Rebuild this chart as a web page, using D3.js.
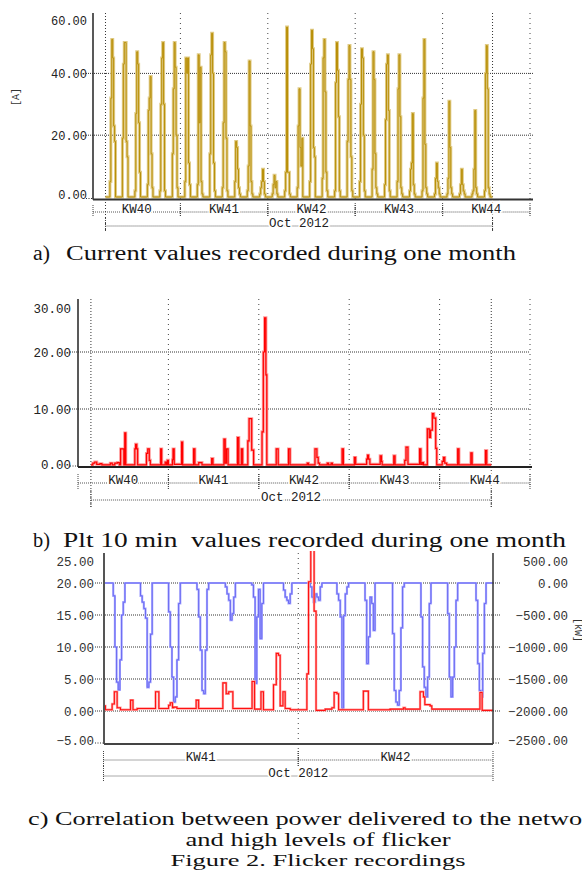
<!DOCTYPE html>
<html><head><meta charset="utf-8">
<script src="https://cdn.jsdelivr.net/npm/d3@7"></script>
<style>body{margin:0;background:#fff;} svg{display:block;} .cap{white-space:pre;}</style>
</head><body>
<script>
// ---------------- DATA ----------------
// days counted from Sun 30 Sep 2012 (day 0); KW weeks start on Sunday
const weekLabels = ["KW40", "KW41", "KW42", "KW43", "KW44"];
const weekStartDays = [0, 7, 14, 21, 28];
const weekEndDay = 35;
const monthLabel = "Oct 2012";
const monthSpan = [1, 32];

// a) current [A] : one array per day of October, levels at fixed daytime slots
const currentTicks = [0, 20, 40, 60];
const currentStartHour = 8.5;
const currentStepHours = 1.8;
const currentDaily = [
  [5, 32, 51, 45, 23, 18], [19, 43, 50, 50, 18, 13], [2, 27, 47, 43, 24, 8],
  [4, 28, 32, 39, 14, 3], [2, 30, 45, 50, 30, 2], [14, 35, 50, 42, 20, 3],
  [5, 45, 40, 45, 11, 4], [4, 46, 24, 42, 5, 1], [14, 46, 53, 40, 11, 2],
  [3, 24, 50, 47, 19, 2], [5, 18, 16, 9, 3, 1], [2, 10, 44, 23, 5, 1],
  [1, 3, 5, 9, 5, 1], [1, 4, 7, 3, 5, 1], [2, 8, 55, 8, 8, 1],
  [3, 23, 35, 16, 10, 19], [5, 43, 54, 48, 16, 13], [6, 45, 51, 34, 8, 2],
  [2, 37, 50, 41, 26, 2], [18, 38, 49, 38, 13, 2], [5, 30, 48, 45, 20, 2],
  [9, 47, 38, 14, 3, 1], [4, 25, 43, 46, 28, 2], [5, 35, 46, 26, 3, 1],
  [2, 9, 11, 27, 4, 1], [2, 32, 51, 17, 3, 1], [1, 6, 11, 5, 3, 1],
  [1, 6, 31, 16, 3, 1], [1, 4, 9, 4, 2, 1], [1, 2, 9, 28, 3, 1],
  [2, 40, 49, 35, 3, 1]
];

// b) Plt 10 min : [day, value] steps
const pltTicks = [0, 10, 20, 30];
const pltSteps = [
  [1.0,0.2],[1.15,0.5],[1.3,0.7],[1.45,0.3],[1.7,0.4],[1.85,0.2],
  [2.5,0.5],[2.65,0.2],[2.85,0.5],[3.05,0.6],[3.2,0.2],
  [3.3,3.0],[3.55,0.2],[3.62,5.8],[3.7,0.2],
  [4.4,3.0],[4.46,3.8],[4.55,3.0],[4.62,0.2],
  [5.3,2.2],[5.4,3.0],[5.52,1.0],[5.6,0.2],
  [6.4,3.0],[6.48,0.2],[6.75,0.7],[6.85,0.2],[6.92,1.0],[7.0,0.2],
  [7.31,1.1],[7.36,3.0],[7.45,0.3],
  [8.02,4.2],[8.1,0.2],
  [8.95,3.0],[9.05,0.2],
  [9.35,0.6],[9.6,0.2],
  [10.35,1.3],[10.45,0.2],
  [11.3,4.7],[11.4,0.5],[11.5,3.0],[11.62,0.2],
  [12.35,5.0],[12.45,0.2],[12.65,3.0],[12.75,0.2],
  [13.15,4.4],[13.25,8.3],[13.45,2.8],[13.6,0.2],
  [14.25,6.0],[14.35,20],[14.45,26],[14.55,16],[14.62,0.2],
  [15.35,3.0],[15.5,0.2],
  [16.3,3.0],[16.42,0.2],
  [17.75,0.5],[17.85,0.2],
  [18.35,3.0],[18.5,1.5],[18.6,0.5],[18.7,0.2],
  [19.3,0.5],[19.4,0.2],[19.6,0.5],[19.7,0.2],
  [20.45,3.0],[20.55,0.2],
  [21.4,1.5],[21.5,0.3],
  [22.35,1.2],[22.42,1.9],[22.5,1.2],[22.6,0.3],
  [23.4,1.8],[23.5,0.8],[23.55,0.2],
  [24.45,1.8],[24.55,0.2],
  [25.3,1.0],[25.4,3.3],[25.55,0.3],
  [26.45,3.0],[26.55,0.3],[26.65,0.6],[26.75,0.2],
  [27.05,6.5],[27.2,5.0],[27.3,6.3],[27.44,9.2],[27.55,8.4],[27.7,3.1],[27.78,0.2],
  [28.2,0.8],[28.3,1.5],[28.4,0.5],[28.55,0.2],
  [29.4,3.0],[29.5,0.2],
  [30.42,2.3],[30.52,0.2],
  [31.55,2.7],[31.65,0.2],
  [32.0,0.2]
];

// c) correlation KW41-KW42
const corrWeekLabels = ["KW41", "KW42"];
const corrWeekStarts = [7, 14];
const corrEndDay = 21;
const corrLeftTicks = [-5, 0, 5, 10, 15, 20, 25];
const corrRightTicks = [-2500, -2000, -1500, -1000, -500, 0, 500];
const corrFlickerSteps = [
  [7.0,0.8],[7.07,0.2],[7.31,1.1],[7.39,3.0],[7.49,0.5],[7.61,0.2],[7.97,1.7],[8.06,0.2],
  [8.21,0.4],[8.87,3.0],[8.99,0.4],[9.34,0.9],[9.40,1.3],[9.48,0.5],[9.52,0.6],[9.64,0.4],
  [10.33,1.7],[10.42,0.4],[11.29,4.4],[11.41,2.7],[11.50,3.0],[11.65,0.4],
  [12.34,4.6],[12.43,0.3],[12.66,3.0],[12.75,0.2],
  [13.11,4.1],[13.21,9.0],[13.29,8.7],[13.35,0.8],[13.45,3.0],[13.53,0.4],[13.71,0.2],
  [14.31,5.8],[14.37,20.2],[14.45,26.0],[14.57,15.6],[14.64,0.1],[14.97,0.3],
  [15.21,0.5],[15.29,2.9],[15.39,2.7],[15.45,0.2],[16.34,3.1],[16.52,0.2],
  [17.30,0.3],[17.78,0.5],[17.84,0.3],[18.38,3.0],[18.50,2.2],[18.55,1.0],[18.74,0.8],[18.80,0.3],
  [20.53,2.9],[20.61,0.1],[21.0,0.1]
];
// power [kW]: daily dips, levels at fixed steps after each start day
const powerStepDays = 0.06;
const powerDipStarts = [7.35, 8.33, 9.34, 10.36, 11.38, 12.33, 13.47, 14.43, 15.39, 16.40, 17.39, 18.41, 19.37, 20.39];
const powerDipLevels = [
  [-200, -1000, -1550, -1670, -1200, -500, -300],
  [-200, -300, -400, -550, -1630, -1550, -800],
  [-450, -1000, -1470, -1860, -1780, -1200, -320],
  [-100, -530, -1050, -1680, -1730, -1050, -100],
  [-60, -170, -270, -580, -480, -220],
  [-30, -220, -1570, -530, -100, -870, -320],
  [-110, -220, -270, -320, -170],
  [-60, -220, -300, -170, -220, -270, -60],
  [-170, -270, -530, -1960, -510, -170, -60],
  [-270, -1260, -840, -220, -320, -740],
  [-790, -1680, -1860, -1910, -1680, -700, -60],
  [-530, -1310, -1630, -1780, -1470, -320],
  [-480, -1470, -1780, -1470, -1000, -270],
  [-270, -1260, -1680, -1780, -1100, -320]
];

const captionA = ["a)", "Current values recorded during one month"];
const captionB = ["b)", "Plt 10 min  values recorded during one month"];
const captionC = ["c) Correlation between power delivered to the network", "and high levels of flicker", "Figure 2. Flicker recordings"];

// ---------------- DRAWING ----------------
const W = 582, H = 870;
const MONO = "'Liberation Mono','Courier New',monospace";
const SERIF = "'Liberation Serif','Times New Roman',serif";
const svg = d3.select("body").append("svg").attr("width", W).attr("height", H);
const fmt = d3.format(".2f");

function dotted(g, x1, y1, x2, y2, dash, color, w) {
  g.append("line").attr("x1", x1).attr("y1", y1).attr("x2", x2).attr("y2", y2)
    .attr("stroke", color || "#333").attr("stroke-width", w || 1)
    .attr("stroke-dasharray", dash || "1,1");
}
function solid(g, x1, y1, x2, y2, color, w) {
  g.append("line").attr("x1", x1).attr("y1", y1).attr("x2", x2).attr("y2", y2)
    .attr("stroke", color).attr("stroke-width", w);
}
function bracketRow(g, segs, yLine, tickTop, tickBot, fs) {
  segs.forEach(s => {
    dotted(g, s.x0, yLine, s.x1, yLine, "1,1", "#555", 1);
    [s.x0, s.x1].forEach(x => dotted(g, x, tickTop, x, tickBot, "1,1", "#444", 1));
  });
  segs.forEach(s => {
    g.append("text").attr("x", (s.x0 + s.x1) / 2).attr("y", yLine + 1)
      .attr("text-anchor", "middle").attr("font-family", MONO).attr("font-size", fs)
      .attr("fill", "#222").attr("stroke", "#fff").attr("stroke-width", 3)
      .attr("paint-order", "stroke").text(s.label);
  });
}
function yLabels(g, scale, ticks, xRight, fs, topShift, botShift, fill) {
  const ax = d3.axisLeft(scale).tickValues(ticks).tickFormat(fmt).tickSize(0).tickPadding(0);
  const ga = g.append("g").attr("transform", `translate(${xRight},0)`).call(ax);
  ga.select(".domain").remove();
  ga.attr("font-family", MONO).attr("font-size", fs);
  ga.selectAll("text").attr("fill", fill || "#222");
  const mx = d3.max(ticks), mn = d3.min(ticks);
  ga.selectAll(".tick").filter(d => d === mx).select("text").attr("y", topShift);
  ga.selectAll(".tick").filter(d => d === mn).select("text").attr("y", botShift);
  return ga;
}
function stepPath(g, pts, x, y, light, dark, wl, wd) {
  const ln = d3.line().x(d => x(d[0])).y(d => y(d[1])).curve(d3.curveStepAfter);
  g.append("path").attr("d", ln(pts)).attr("fill", "none").attr("stroke", light)
    .attr("stroke-width", wl).attr("stroke-linejoin", "miter");
  g.append("path").attr("d", ln(pts)).attr("fill", "none").attr("stroke", dark)
    .attr("stroke-width", wd);
}
function caption(txt, x, y, len, fs, anchor) {
  svg.append("text").attr("class", "cap").attr("x", x).attr("y", y)
    .attr("text-anchor", anchor || "start").attr("font-family", SERIF)
    .attr("font-size", fs).attr("fill", "#111")
    .attr("textLength", len).attr("lengthAdjust", "spacingAndGlyphs").text(txt);
}

// ===== Panel a =====
{
  const g = svg.append("g");
  const x = d3.scaleLinear().domain([0, weekEndDay]).range([93, 530]);
  const y = d3.scaleLinear().domain([0, 60]).range([197, 11.6]);
  const top = 13, base = 199.5;
  currentTicks.filter(v => v > 0 && v < 60).forEach(v => dotted(g, 86, y(v), 533, y(v), "1,1", "#333"));
  dotted(g, 86, base - 1, 93, base - 1, "1,1.5", "#333");
  weekStartDays.slice(1).concat([weekEndDay]).forEach(d => dotted(g, x(d), top, x(d), 217, "1,4", "#444"));
  monthSpan.forEach(d => dotted(g, x(d), top, x(d), 231, "1,2", "#333"));

  const pts = [[monthSpan[0], 0]];
  currentDaily.forEach((vals, i) => {
    const day = monthSpan[0] + i;
    vals.forEach((v, j) => pts.push([day + (currentStartHour + j * currentStepHours) / 24, v]));
    pts.push([day + (currentStartHour + vals.length * currentStepHours) / 24, 0]);
  });
  pts.push([monthSpan[1], 0]);
  stepPath(g, pts, x, y, "#e0cb86", "#b88f08", 3, 1);

  solid(g, 93, top, 93, base, "#222", 1.5);
  solid(g, 93, base, 533, base, "#333", 2);
  yLabels(g, y, currentTicks, 87, 12, 9, -2);
  g.append("text").attr("transform", "translate(19,97) rotate(-90)").attr("text-anchor", "middle")
    .attr("font-family", MONO).attr("font-size", 10).attr("fill", "#333").text("[A]");

  const segs = weekLabels.map((l, i) => ({ x0: x(weekStartDays[i]), x1: x(weekStartDays[i] + 7), label: l }));
  bracketRow(g, segs, 212, 205, 217, 12.5);
  bracketRow(g, [{ x0: x(monthSpan[0]), x1: x(monthSpan[1]), label: monthLabel }], 226, 218, 232, 12.5);
}

// ===== Panel b =====
{
  const g = svg.append("g");
  const x = d3.scaleLinear().domain([0, weekEndDay]).range([78, 530]);
  const y = d3.scaleLinear().domain([0, 30]).range([466, 295]);
  const top = 299, base = 467;
  pltTicks.filter(v => v > 0 && v < 30).forEach(v => dotted(g, 70, y(v), 530, y(v), "1,1", "#333"));
  dotted(g, 70, base - 1, 78, base - 1, "1,1.5", "#333");
  weekStartDays.slice(1).concat([weekEndDay]).forEach(d => dotted(g, x(d), top, x(d), 489, "1,4", "#444"));
  monthSpan.forEach(d => dotted(g, x(d), top, x(d), 507, "1,2", "#333"));

  stepPath(g, pltSteps, x, y, "#ff9c9c", "#ff0000", 3, 1.2);

  solid(g, 78, top, 78, base, "#222", 1.5);
  solid(g, 78, base, 532, base, "#222", 2);
  yLabels(g, y, pltTicks, 71, 12.5, 13, -2);

  const segs = weekLabels.map((l, i) => ({ x0: x(weekStartDays[i]), x1: x(weekStartDays[i] + 7), label: l }));
  bracketRow(g, segs, 483, 474, 490, 12.5);
  bracketRow(g, [{ x0: x(monthSpan[0]), x1: x(monthSpan[1]), label: monthLabel }], 500, 490, 508, 12.5);
}

// ===== Panel c =====
{
  const g = svg.append("g");
  const x = d3.scaleLinear().domain([corrWeekStarts[0], corrEndDay]).range([103.5, 493]);
  const y = d3.scaleLinear().domain([-5, 25]).range([743, 551]);
  const y2 = d3.scaleLinear().domain([-2500, 500]).range([743, 551]);
  const top = 553, base = 744;
  corrLeftTicks.filter(v => v > -5 && v < 25).forEach(v => dotted(g, 95, y(v), 500, y(v), "1,1", "#333"));
  dotted(g, 95, base - 1, 104, base - 1, "1,1.5", "#333");
  dotted(g, 493, base - 1, 500, base - 1, "1,1.5", "#333");
  dotted(g, x(corrWeekStarts[1]), top, x(corrWeekStarts[1]), 766, "1,4", "#444");

  g.append("clipPath").attr("id", "clipC").append("rect")
    .attr("x", 104).attr("y", 551).attr("width", 389).attr("height", 192);
  const gd = g.append("g").attr("clip-path", "url(#clipC)");
  const powerPts = [[corrWeekStarts[0], 0]];
  powerDipStarts.forEach((s, i) => {
    powerDipLevels[i].forEach((v, j) => powerPts.push([s + j * powerStepDays, v]));
    powerPts.push([s + powerDipLevels[i].length * powerStepDays, 0]);
  });
  powerPts.push([corrEndDay, 0]);
  stepPath(gd, powerPts, x, y2, "#a8a8ff", "#6a6af2", 2.2, 1);
  stepPath(gd, corrFlickerSteps, x, y, "#ffa0a0", "#ff1010", 2.4, 1.1);

  solid(g, 104, top, 104, base, "#555", 2);
  solid(g, 493, top, 493, base, "#333", 1.5);
  solid(g, 104, base, 493, base, "#444", 2);
  yLabels(g, y, corrLeftTicks, 94, 12.5, 10, -3, "#333");
  const axR = d3.axisLeft(y2).tickValues(corrRightTicks).tickFormat(fmt).tickSize(0).tickPadding(0);
  const gr = g.append("g").attr("transform", "translate(568,0)").call(axR);
  gr.select(".domain").remove();
  gr.attr("font-family", MONO).attr("font-size", 12.5);
  gr.selectAll("text").attr("fill", "#333");
  gr.selectAll(".tick").filter(d => d === 500).select("text").attr("y", 10);
  gr.selectAll(".tick").filter(d => d === -2500).select("text").attr("y", -3);
  g.append("text").attr("transform", "translate(575,630) rotate(90)").attr("text-anchor", "middle")
    .attr("font-family", MONO).attr("font-size", 10).attr("fill", "#333").text("[kW]");

  const segs = corrWeekLabels.map((l, i) => ({ x0: x(corrWeekStarts[i]), x1: x(corrWeekStarts[i] + 7), label: l }));
  bracketRow(g, segs, 760, 751, 766, 12.5);
  bracketRow(g, [{ x0: x(corrWeekStarts[0]), x1: x(corrEndDay), label: monthLabel }], 776, 766, 782, 12.5);
}

// ===== Captions =====
caption(captionA[0], 33, 260, 17, 20);
caption(captionA[1], 66, 260, 450, 20);
caption(captionB[0], 33, 547, 17, 20);
caption(captionB[1], 63, 547, 503, 20);
caption(captionC[0], 28, 825, 576, 19);
caption(captionC[1], 318, 846, 265, 18, "middle");
caption(captionC[2], 318, 866, 295, 16.5, "middle");
</script>
</body></html>
